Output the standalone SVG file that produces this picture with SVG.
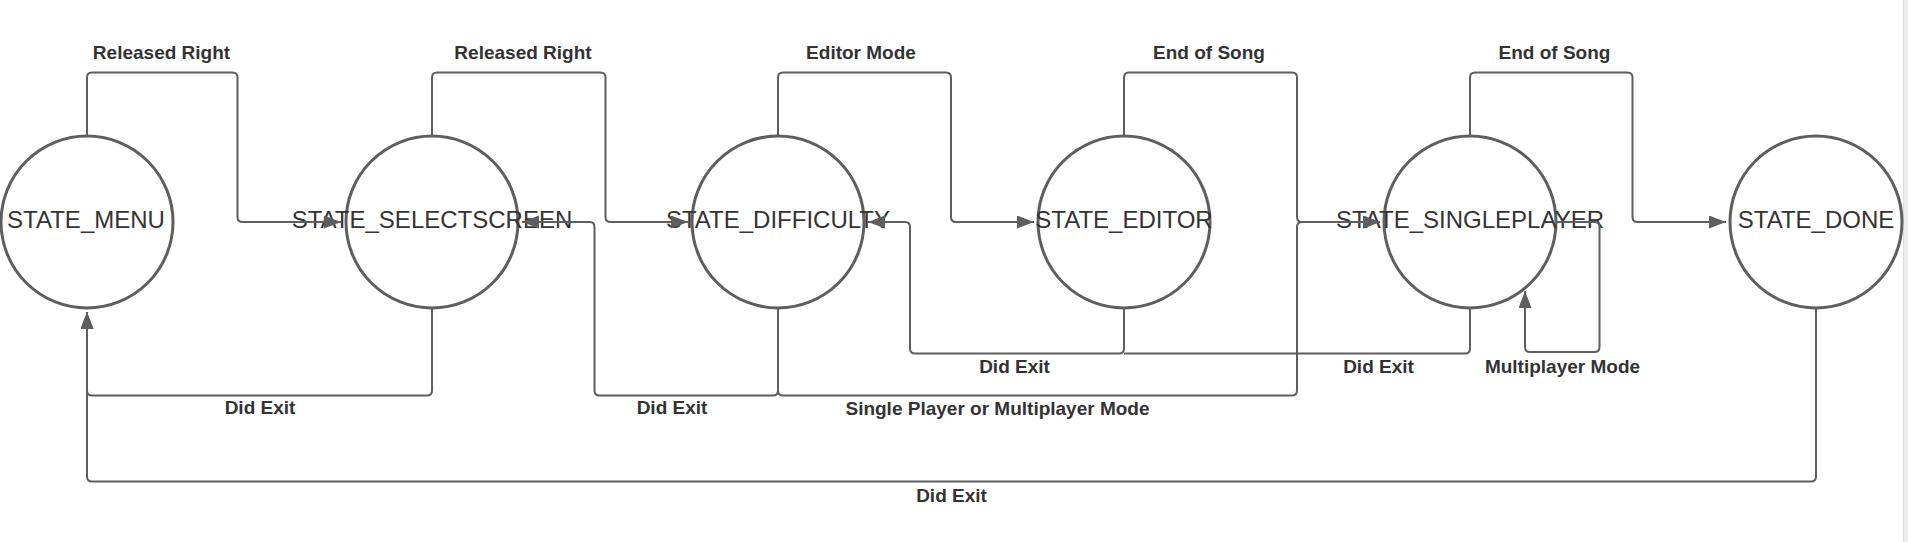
<svg xmlns="http://www.w3.org/2000/svg" width="1908" height="542" viewBox="0 0 1908 542">
<style>
.node circle{fill:#ffffff;stroke:#5e5e5e;stroke-width:3}
.node text{font-family:"Liberation Sans",Arial,sans-serif;font-size:24px;fill:#333333;text-anchor:middle}
.edge{fill:none;stroke:#5e5e5e;stroke-width:2}
.arr{marker-end:url(#ah)}
.lbl{font-family:"Liberation Sans",Arial,sans-serif;font-size:19px;font-weight:bold;fill:#333333;text-anchor:middle}
</style>
<defs>
<marker id="ah" markerUnits="userSpaceOnUse" markerWidth="18" markerHeight="14" refX="17" refY="6.5" orient="auto">
<path d="M0,0 L17,6.5 L0,13 z" fill="#5e5e5e"/>
</marker>
</defs>
<rect x="0" y="0" width="1908" height="542" fill="#ffffff"/>
<rect x="1903" y="0" width="5" height="542" fill="#ebebeb"/>
<line x1="1903.5" y1="0" x2="1903.5" y2="542" stroke="#dddddd" stroke-width="1"/>

<g id="state_menu" class="node"><circle cx="87" cy="222" r="86"/><text x="86" y="228">STATE_MENU</text></g>
<g id="state_selectscreen" class="node"><circle cx="432" cy="222" r="86"/><text x="432" y="228">STATE_SELECTSCREEN</text></g>
<g id="state_difficulty" class="node"><circle cx="778" cy="222" r="86"/><text x="778" y="228">STATE_DIFFICULTY</text></g>
<g id="state_editor" class="node"><circle cx="1124" cy="222" r="86"/><text x="1124" y="228">STATE_EDITOR</text></g>
<g id="state_singleplayer" class="node"><circle cx="1470" cy="222" r="86"/><text x="1470" y="228">STATE_SINGLEPLAYER</text></g>
<g id="state_done" class="node"><circle cx="1816" cy="222" r="86"/><text x="1816" y="228">STATE_DONE</text></g>

<g id="connectors">
<path class="edge arr" d="M87 136 V77.5 Q87 72.5 92 72.5 H232.5 Q237.5 72.5 237.5 77.5 V217 Q237.5 222 242.5 222 H341"/>
<path class="edge arr" d="M432 136 V77.5 Q432 72.5 437 72.5 H600.5 Q605.5 72.5 605.5 77.5 V217 Q605.5 222 610.5 222 H688"/>
<path class="edge arr" d="M778 136 V77.5 Q778 72.5 783 72.5 H946 Q951 72.5 951 77.5 V217 Q951 222 956 222 H1034"/>
<path class="edge arr" d="M1124 136 V77.5 Q1124 72.5 1129 72.5 H1292 Q1297 72.5 1297 77.5 V217 Q1297 222 1302 222 H1380"/>
<path class="edge arr" d="M1470 136 V77.5 Q1470 72.5 1475 72.5 H1627.5 Q1632.5 72.5 1632.5 77.5 V217 Q1632.5 222 1637.5 222 H1726"/>
<path class="edge arr" d="M432 308 V390.5 Q432 395.5 427 395.5 H92 Q87 395.5 87 390.5 V312"/>
<path class="edge arr" d="M778 308 V390.5 Q778 395.5 773 395.5 H599.5 Q594.5 395.5 594.5 390.5 V227 Q594.5 222 589.5 222 H522"/>
<path class="edge arr" d="M778 308 V390.5 Q778 395.5 783 395.5 H1292 Q1297 395.5 1297 390.5 V227 Q1297 222 1302 222 H1380"/>
<path class="edge arr" d="M1124 308 V348.5 Q1124 353.5 1119 353.5 H915 Q910 353.5 910 348.5 V227 Q910 222 905 222 H868"/>
<path class="edge" d="M1470 308 V348.5 Q1470 353.5 1465 353.5 H1124"/>
<path class="edge arr" d="M1556 222 H1594.5 Q1599.5 222 1599.5 227 V347 Q1599.5 352 1594.5 352 H1530 Q1525 352 1525 347 V291"/>
<path class="edge arr" d="M1816 308 V476.5 Q1816 481.5 1811 481.5 H92 Q87 481.5 87 476.5 V312"/>
</g>

<g id="labels">
<text class="lbl" x="161.5" y="59">Released Right</text>
<text class="lbl" x="523" y="59">Released Right</text>
<text class="lbl" x="861" y="59">Editor Mode</text>
<text class="lbl" x="1209" y="59">End of Song</text>
<text class="lbl" x="1554.5" y="59">End of Song</text>
<text class="lbl" x="260" y="414">Did Exit</text>
<text class="lbl" x="672" y="414">Did Exit</text>
<text class="lbl" x="997.5" y="414.5">Single Player or Multiplayer Mode</text>
<text class="lbl" x="1014.5" y="373">Did Exit</text>
<text class="lbl" x="1378.5" y="373">Did Exit</text>
<text class="lbl" x="1562.5" y="372.5">Multiplayer Mode</text>
<text class="lbl" x="951.5" y="501.5">Did Exit</text>
</g>
</svg>
